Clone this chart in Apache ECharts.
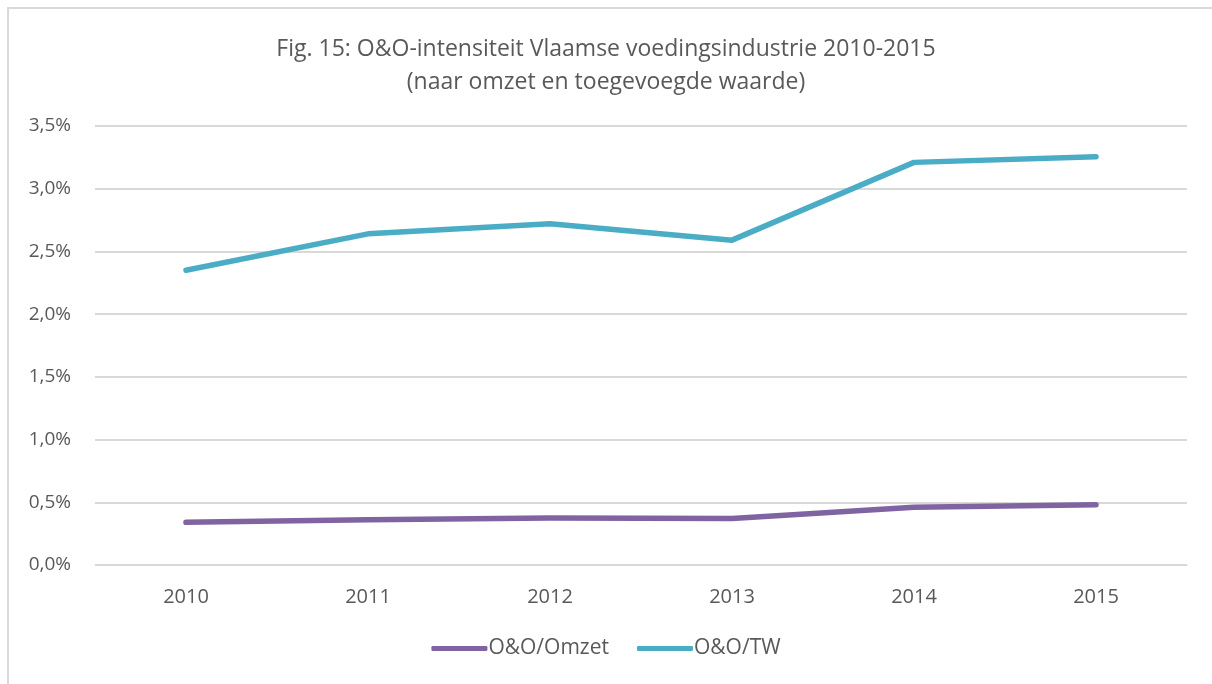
<!DOCTYPE html>
<html><head><meta charset="utf-8">
<script src="https://cdn.jsdelivr.net/npm/echarts@6/dist/echarts.min.js"></script>
<style>
html,body{margin:0;padding:0;background:#fff;}
#frame{position:absolute;left:7px;top:7px;width:1220px;height:700px;border:2px solid #d9d9d9;box-sizing:border-box;}
#c{position:absolute;left:0;top:0;width:1212px;height:684px;}
</style></head>
<body><div id="frame"></div><div id="c"></div>
<script>
var categories = ['2010','2011','2012','2013','2014','2015'];
var omzet = [0.34, 0.36, 0.375, 0.37, 0.46, 0.48];
var tw = [2.35, 2.64, 2.72, 2.59, 3.21, 3.255];
var seriesNames = ['O&O/Omzet','O&O/TW'];
var titleLines = ['Fig. 15: O&O-intensiteit Vlaamse voedingsindustrie 2010-2015','(naar omzet en toegevoegde waarde)'];

var chart = echarts.init(document.getElementById('c'), null, {renderer:'canvas'});
var font = 'Open Sans';
chart.setOption({
  animation:false,
  backgroundColor:'transparent',
  title:{text:titleLines.join('\n'),left:'center',top:28,
    textStyle:{fontFamily:font,fontWeight:'normal',fontSize:23,color:'#595959',lineHeight:33}},
  grid:{left:95,right:25,top:126,bottom:119,containLabel:false},
  legend:{bottom:20,left:'center',itemWidth:56,itemHeight:5,itemGap:28,
    textStyle:{fontFamily:font,fontSize:21,color:'#595959',padding:[0,0,0,-4]},
    icon:'roundRect',
    data:seriesNames},
  xAxis:{type:'category',data:categories,boundaryGap:true,
    axisLine:{lineStyle:{color:'#d9d9d9',width:1}},axisTick:{show:false},
    axisLabel:{fontFamily:font,fontSize:20,color:'#595959',margin:22}},
  yAxis:{type:'value',min:0,max:3.5,interval:0.5,
    axisLine:{show:false},axisTick:{show:false},
    splitLine:{lineStyle:{color:'#d9d9d9',width:2}},
    axisLabel:{fontFamily:font,fontSize:19,color:'#595959',margin:24,
      formatter:function(v){return v.toFixed(1).replace('.',',')+'%';}}},
  series:[
    {name:seriesNames[0],type:'line',data:omzet,symbol:'none',
      lineStyle:{width:5.5,color:'#8064a2',cap:'round',join:'round'},itemStyle:{color:'#8064a2'}},
    {name:seriesNames[1],type:'line',data:tw,symbol:'none',
      lineStyle:{width:5.5,color:'#4bacc6',cap:'round',join:'round'},itemStyle:{color:'#4bacc6'}}
  ]
});
</script></body></html>
